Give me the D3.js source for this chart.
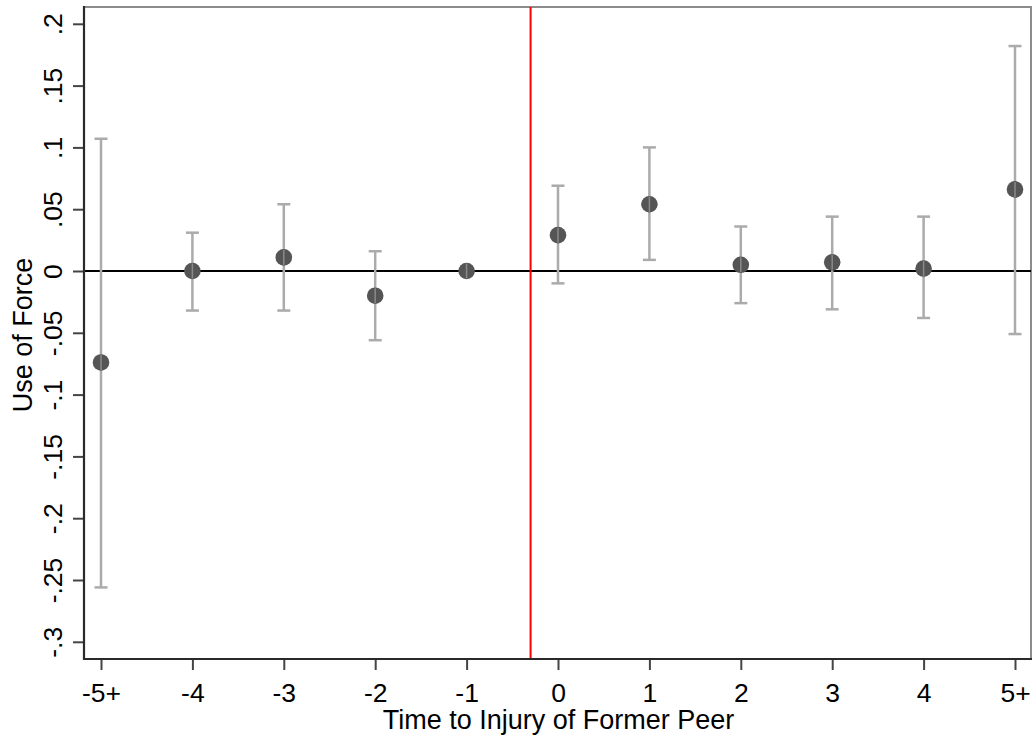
<!DOCTYPE html>
<html>
<head>
<meta charset="utf-8">
<script src="https://cdn.jsdelivr.net/npm/d3@7"></script>
<style>
  html, body { margin: 0; padding: 0; background: #fff; }
  svg { display: block; }
  text { font-family: "Liberation Sans", Arial, sans-serif; }
</style>
</head>
<body>
<svg id="chart" width="1034" height="737"></svg>
<script>
// ---- data ----
const periods = [-5, -4, -3, -2, -1, 0, 1, 2, 3, 4, 5];
const periodLabels = ["-5+", "-4", "-3", "-2", "-1", "0", "1", "2", "3", "4", "5+"];
const coef = [-0.074, 0.000, 0.011, -0.020, 0.000, 0.029, 0.054, 0.005, 0.007, 0.002, 0.066];
const ciLow = [-0.256, -0.032, -0.032, -0.056, null, -0.010, 0.009, -0.026, -0.031, -0.038, -0.051];
const ciHigh = [0.107, 0.031, 0.054, 0.016, null, 0.069, 0.100, 0.036, 0.044, 0.044, 0.182];
const yTickValues = [0.2, 0.15, 0.1, 0.05, 0, -0.05, -0.1, -0.15, -0.2, -0.25, -0.3];
const yTickLabels = [".2", ".15", ".1", ".05", "0", "-.05", "-.1", "-.15", "-.2", "-.25", "-.3"];
const eventLine = -0.3;
const xTitle = "Time to Injury of Former Peer";
const yTitle = "Use of Force";

// ---- layout ----
const svg = d3.select("#chart");
const plot = { left: 84, right: 1031, top: 7, bottom: 659 };

const x = d3.scaleLinear().domain([-5, 5]).range([101, 1015]);
const y = d3.scaleLinear().domain([-0.3, 0.2]).range([641.8, 23.8]);

// frame (top/right light)
svg.append("rect")
  .attr("x", plot.left).attr("y", plot.top)
  .attr("width", plot.right - plot.left).attr("height", plot.bottom - plot.top)
  .attr("fill", "none").attr("stroke", "#8c8c8c").attr("stroke-width", 2);

// zero line
svg.append("line")
  .attr("x1", plot.left).attr("x2", plot.right)
  .attr("y1", y(0)).attr("y2", y(0))
  .attr("stroke", "#000").attr("stroke-width", 2);

// event (red) line
svg.append("line")
  .attr("x1", x(eventLine)).attr("x2", x(eventLine))
  .attr("y1", plot.top).attr("y2", plot.bottom)
  .attr("stroke", "#ff0000").attr("stroke-width", 2);

// error bars
const rows = periods.map((p, i) => ({ p, c: coef[i], lo: ciLow[i], hi: ciHigh[i] }));
const withCI = rows.filter(d => d.lo !== null);
const capW = 6.5;
const eb = svg.append("g").attr("stroke", "#ababab").attr("stroke-width", 2.5);
eb.selectAll("line.v").data(withCI).join("line").attr("class", "v")
  .attr("x1", d => x(d.p)).attr("x2", d => x(d.p))
  .attr("y1", d => y(d.lo)).attr("y2", d => y(d.hi));
eb.selectAll("line.t").data(withCI).join("line").attr("class", "t")
  .attr("x1", d => x(d.p) - capW).attr("x2", d => x(d.p) + capW)
  .attr("y1", d => y(d.hi)).attr("y2", d => y(d.hi));
eb.selectAll("line.b").data(withCI).join("line").attr("class", "b")
  .attr("x1", d => x(d.p) - capW).attr("x2", d => x(d.p) + capW)
  .attr("y1", d => y(d.lo)).attr("y2", d => y(d.lo));

// markers
svg.append("g").selectAll("circle").data(rows).join("circle")
  .attr("cx", d => x(d.p)).attr("cy", d => y(d.c)).attr("r", 8.3)
  .attr("fill", "#555555");
// light stripe through markers (bar drawn over the marker)
svg.append("g").selectAll("line").data(rows).join("line")
  .attr("x1", d => x(d.p)).attr("x2", d => x(d.p))
  .attr("y1", d => y(d.c) - 7.5).attr("y2", d => y(d.c) + 7.5)
  .attr("stroke", "#8a8a8a").attr("stroke-width", 1.5);

// axes
const xAxis = d3.axisBottom(x).tickValues(periods)
  .tickFormat((d, i) => periodLabels[i]).tickSize(11).tickSizeOuter(0).tickPadding(13);
const gx = svg.append("g").attr("transform", `translate(0,${plot.bottom})`).call(xAxis);
gx.select(".domain").remove();
gx.selectAll(".tick line").attr("stroke", "#444").attr("stroke-width", 2);
gx.selectAll(".tick text").attr("font-size", 26.5).attr("fill", "#000");

const yAxis = d3.axisLeft(y).tickValues(yTickValues)
  .tickFormat((d, i) => yTickLabels[i]).tickSize(11).tickSizeOuter(0);
const gy = svg.append("g").attr("transform", `translate(${plot.left},0)`).call(yAxis);
gy.select(".domain").remove();
gy.selectAll(".tick line").attr("stroke", "#444").attr("stroke-width", 2);
gy.selectAll(".tick text")
  .attr("font-size", 26.5).attr("fill", "#000")
  .attr("transform", "rotate(-90)")
  .attr("x", 0).attr("y", -22).attr("dy", 0)
  .attr("text-anchor", "middle");

// left & bottom axis lines (dark)
svg.append("line").attr("x1", plot.left).attr("x2", plot.left)
  .attr("y1", plot.top - 1).attr("y2", plot.bottom + 1)
  .attr("stroke", "#2a2a2a").attr("stroke-width", 2.2);
svg.append("line").attr("x1", plot.left - 1).attr("x2", plot.right + 1)
  .attr("y1", plot.bottom).attr("y2", plot.bottom)
  .attr("stroke", "#2a2a2a").attr("stroke-width", 2.2);

// titles
svg.append("text")
  .attr("x", (plot.left + plot.right) / 2 + 1).attr("y", 729)
  .attr("text-anchor", "middle").attr("font-size", 27).attr("fill", "#000")
  .text(xTitle);
svg.append("text")
  .attr("transform", `translate(32,${(plot.top + plot.bottom) / 2 + 2}) rotate(-90)`)
  .attr("text-anchor", "middle").attr("font-size", 27).attr("fill", "#000")
  .text(yTitle);
</script>
</body>
</html>
